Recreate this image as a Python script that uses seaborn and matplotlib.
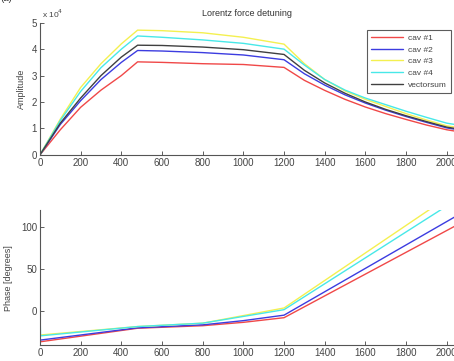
import numpy as np
import pandas as pd
import matplotlib
matplotlib.use('Agg')
import matplotlib.pyplot as plt
import seaborn as sns

sns.set_style('white')
plt.rcParams['font.family'] = ['Liberation Sans', 'DejaVu Sans']

# 數據
amp_t = [0, 100, 200, 300, 400, 480, 600, 800, 1000, 1200,
         1300, 1400, 1500, 1600, 1700, 1800, 1900, 2000, 2040]
amp_cav1 = [0, 0.95, 1.8, 2.45, 3.0, 3.52, 3.5, 3.45, 3.42, 3.31,
            2.82, 2.44, 2.1, 1.81, 1.56, 1.34, 1.13, 0.95, 0.9]
amp_cav2 = [0, 1.15, 2.05, 2.85, 3.5, 3.95, 3.93, 3.87, 3.78, 3.6,
            3.07, 2.64, 2.27, 1.96, 1.69, 1.45, 1.23, 1.02, 0.97]
amp_cav3 = [0, 1.35, 2.55, 3.45, 4.2, 4.72, 4.7, 4.62, 4.45, 4.19,
            3.45, 2.85, 2.42, 2.1, 1.83, 1.56, 1.32, 1.1, 1.05]
amp_cav4 = [0, 1.3, 2.4, 3.3, 4.0, 4.5, 4.45, 4.35, 4.22, 4.0,
            3.4, 2.85, 2.45, 2.15, 1.9, 1.65, 1.42, 1.2, 1.15]
amp_vsum = [0, 1.2, 2.15, 3.0, 3.7, 4.15, 4.14, 4.08, 3.98, 3.8,
            3.2, 2.72, 2.33, 2.0, 1.72, 1.48, 1.26, 1.05, 1.0]

phase_t = [0, 3, 480, 800, 1000, 1200, 2040]
phase_cav1 = [-36, -36, -20, -17, -13, -7.5, 101]
phase_cav2 = [-34, -34, -19.5, -16, -11, -4.5, 112]
phase_cav3 = [-28, -28, -18, -14, -5, 4, 141]
phase_cav4 = [0, -29, -18, -14, -6, 2, 131]

labels = ['cav #1', 'cav #2', 'cav #3', 'cav #4', 'vectorsum']
colors = ['#f04848', '#3c3ce0', '#f4f050', '#48e8e8', '#404040']

fig = plt.figure(figsize=(4.54, 3.61), dpi=100)
ax1 = fig.add_axes([0.088, 0.571, 0.914, 0.366])
ax2 = fig.add_axes([0.088, 0.044, 0.914, 0.374])

# 振幅
for vals, lab, col in zip([amp_cav1, amp_cav2, amp_cav3, amp_cav4, amp_vsum], labels, colors):
    sns.lineplot(x=amp_t, y=np.array(vals) * 1e4, color=col, lw=1.0, label=lab, ax=ax1)

# 相位
for vals, col in zip([phase_cav1, phase_cav2, phase_cav3, phase_cav4], colors):
    sns.lineplot(x=phase_t, y=vals, color=col, lw=1.0, ax=ax2)

tick_col = '#444444'
for ax in (ax1, ax2):
    ax.set_xlim(0, 2040)
    ax.set_xticks(range(0, 2001, 200))
    for s in ('top', 'right'):
        ax.spines[s].set_visible(False)
    for s in ('left', 'bottom'):
        ax.spines[s].set_color('#555555')
        ax.spines[s].set_linewidth(0.8)
    ax.tick_params(direction='in', length=3, width=0.6, labelsize=7,
                   colors=tick_col, pad=2, left=True, bottom=True)

ax1.set_ylim(0, 5e4)
ax1.set_yticks([0, 1e4, 2e4, 3e4, 4e4, 5e4])
ax1.set_yticklabels(['0', '1', '2', '3', '4', '5'])
ax1.text(0.005, 1.02, r'x 10$^4$', transform=ax1.transAxes, fontsize=6,
         color=tick_col, va='bottom')
ax1.set_title('Lorentz force detuning', fontsize=6.5, color='#333333', pad=5)
ax1.set_ylabel('Amplitude', fontsize=6.5, color=tick_col, labelpad=4)

leg = ax1.legend(loc='upper right', bbox_to_anchor=(1.0, 0.975), fontsize=6,
                 frameon=True, fancybox=False, handlelength=3.8,
                 handletextpad=0.6, borderpad=0.5, labelspacing=0.45)
leg.get_frame().set_edgecolor('#333333')
leg.get_frame().set_linewidth(0.8)
for t in leg.get_texts():
    t.set_color(tick_col)

ax2.set_ylim(-40, 120)
ax2.set_yticks([0, 50, 100])
ax2.set_ylabel('Phase [degrees]', fontsize=6.5, color=tick_col, labelpad=6)
ax2.set_xlabel('time [\u03bcs]', fontsize=6.5, color=tick_col, labelpad=6)

fig.text(0.0, 1.005, '(a)', fontsize=7, color='#333333', va='center')

fig.savefig('out.png', dpi=100)
